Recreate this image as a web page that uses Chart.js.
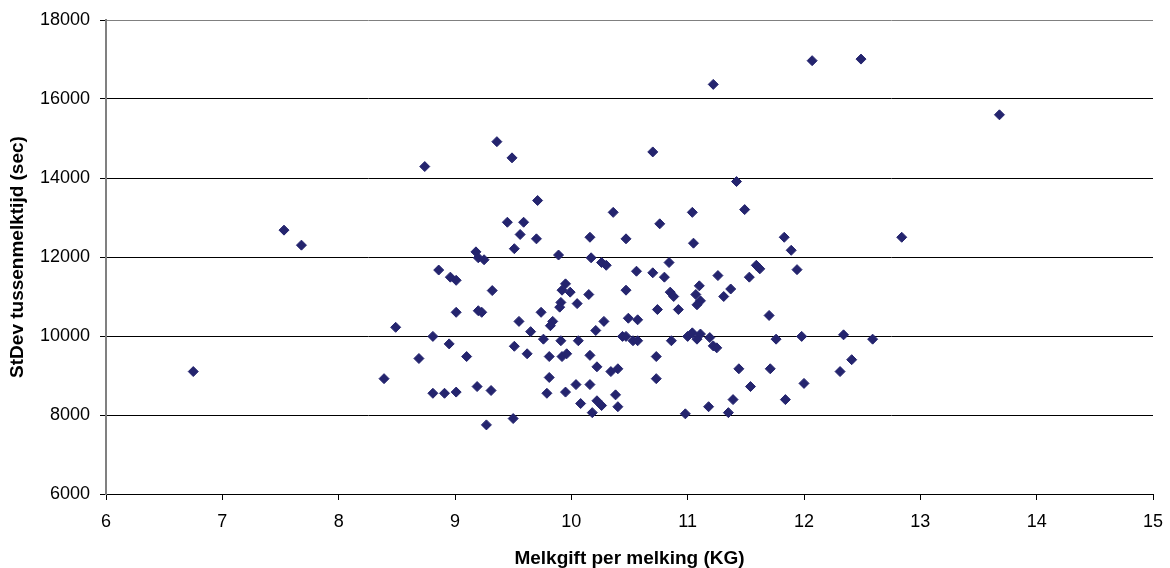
<!DOCTYPE html>
<html>
<head>
<meta charset="utf-8">
<script src="https://cdn.jsdelivr.net/npm/chart.js@4/dist/chart.umd.min.js"></script>
<style>
  html, body { margin: 0; padding: 0; background: #fff; }
  #wrap { width: 1170px; height: 568px; }
</style>
</head>
<body>
<div id="wrap"><canvas id="scatter"></canvas></div>
<script>
"use strict";

// Melkgift per melking (KG)
const melkgift = [
  6.75, 7.53, 7.68, 8.74, 9.36, 9.18, 9.20, 9.25, 8.86, 8.96,
  9.01, 9.32, 8.49, 9.01, 9.20, 9.23, 8.81, 8.95, 8.69, 9.10,
  8.39, 8.81, 8.91, 9.01, 9.19, 9.31, 9.27, 11.22, 9.49, 10.70,
  11.42, 9.71, 11.49, 10.36, 11.04, 9.45, 9.59, 10.76, 9.56, 9.70,
  10.16, 10.47, 11.05, 11.83, 11.89, 9.51, 9.89, 10.17, 10.26, 10.30,
  10.56, 10.70, 10.80, 10.84, 11.26, 11.53, 11.59, 11.62, 11.94, 9.95,
  9.92, 9.99, 10.47, 10.85, 10.88, 11.10, 11.07, 11.11, 11.08, 10.15,
  9.91, 9.90, 10.05, 11.31, 11.37, 9.74, 10.74, 10.92, 11.70, 9.55,
  9.84, 9.82, 10.28, 10.49, 10.57, 9.65, 10.21, 9.76, 9.91, 10.06,
  10.44, 10.47, 10.53, 10.57, 10.86, 11.00, 11.04, 11.08, 11.11, 11.19,
  11.22, 11.25, 11.76, 11.98, 9.51, 9.62, 9.81, 9.92, 9.96, 10.16,
  10.22, 10.34, 10.40, 10.73, 11.44, 11.71, 9.81, 10.73, 11.54, 12.00,
  9.79, 9.95, 10.04, 10.16, 10.38, 10.22, 10.26, 10.08, 10.40, 10.18,
  10.98, 11.18, 11.35, 11.39, 11.84, 9.50, 12.07, 12.49, 13.68, 12.84,
  12.34, 12.59, 12.41, 12.31
];

// StDev tussenmelktijd (sec)
const stdevTussenmelktijd = [
  9100, 12680, 12300, 14290, 14920, 12130, 11980, 11930, 11670, 11490,
  11410, 11150, 10220, 10600, 10640, 10600, 9990, 9800, 9430, 9480,
  8920, 8550, 8550, 8580, 8720, 8620, 7750, 16370, 14510, 14660,
  13910, 13430, 13200, 13130, 13130, 12880, 12880, 12840, 12570, 12460,
  12500, 12460, 12350, 12500, 12170, 12210, 12050, 11980, 11860, 11790,
  11640, 11600, 11490, 11860, 11530, 11490, 11790, 11700, 11680, 11320,
  11160, 11110, 11160, 11110, 11000, 11270, 11050, 10890, 10790, 11050,
  10850, 10730, 10820, 11000, 11190, 10600, 10670, 10670, 10520, 10370,
  10370, 10260, 10370, 10450, 10410, 10110, 10140, 9920, 9880, 9880,
  9990, 9990, 9880, 9880, 9880, 9990, 10080, 9920, 10050, 9960,
  9750, 9700, 9920, 9990, 9740, 9550, 9480, 9480, 9550, 9510,
  9220, 9100, 9170, 9480, 9170, 9170, 8950, 8920, 8720, 8800,
  8550, 8580, 8770, 8770, 8510, 8360, 8240, 8290, 8210, 8060,
  8030, 8210, 8060, 8390, 8390, 7910, 16970, 17010, 15600, 12500,
  10030, 9920, 9400, 9100
];

// axis ranges and tick steps
const xRange = [6, 15];
const xStep = 1;
const yRange = [6000, 18000];
const yStep = 2000;

const points = melkgift.map((x, i) => ({ x: x, y: stdevTussenmelktijd[i] }));

const markColor = '#24246E';
const labelFont = { family: 'Liberation Sans, Arial, sans-serif', size: 18 };
const titleFont = { family: 'Liberation Sans, Arial, sans-serif', size: 19, weight: 'bold', lineHeight: 1 };

new Chart(document.getElementById('scatter').getContext('2d'), {
  type: 'scatter',
  data: {
    datasets: [{
      label: 'StDev',
      data: points,
      pointStyle: 'rectRot',
      pointRadius: 5,
      pointHoverRadius: 5,
      pointBackgroundColor: markColor,
      pointBorderColor: markColor,
      pointBorderWidth: 1
    }]
  },
  options: {
    responsive: true,
    maintainAspectRatio: false,
    animation: false,
    events: [],
    layout: { autoPadding: false, padding: { top: 20, right: 17, left: 0, bottom: 0 } },
    plugins: {
      legend: { display: false },
      tooltip: { enabled: false }
    },
    scales: {
      x: {
        type: 'linear',
        min: xRange[0],
        max: xRange[1],
        ticks: { stepSize: xStep, color: '#000', font: labelFont, padding: 11, maxRotation: 0,
                 callback: v => String(v) },
        grid: { drawOnChartArea: false, tickLength: 6, tickColor: '#000', color: '#000' },
        border: { color: '#000', width: 1 },
        title: { display: true, text: 'Melkgift per melking (KG)', color: '#000', font: titleFont, padding: { top: 0, bottom: 0 } },
        afterFit: function(scale) {
          scale.height = 74;
          scale.paddingLeft = 0;
          scale.paddingRight = 0;
        }
      },
      y: {
        type: 'linear',
        min: yRange[0],
        max: yRange[1],
        ticks: { stepSize: yStep, color: '#000', font: labelFont, padding: 10,
                 callback: v => String(v) },
        grid: {
          tickLength: 6,
          tickColor: '#000',
          color: ctx => (ctx.tick && ctx.tick.value === yRange[1]) ? '#808080' : '#000'
        },
        border: { color: '#808080', width: 2 },
        title: { display: true, text: 'StDev tussenmelktijd (sec)', color: '#000', font: titleFont, padding: { top: 8, bottom: 0 } },
        afterFit: function(scale) {
          scale.width = 106;
          scale.paddingTop = 0;
          scale.paddingBottom = 0;
        }
      }
    }
  }
});
</script>
</body>
</html>
